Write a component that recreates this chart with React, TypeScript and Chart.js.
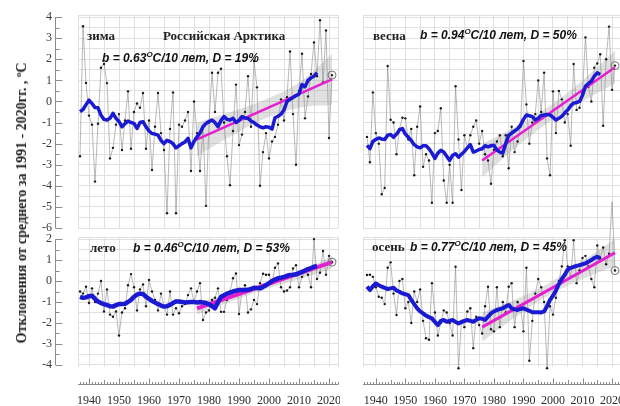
import React, { useEffect, useRef } from 'react';
import { Chart, registerables } from 'chart.js';
Chart.register(...registerables);

// ---------- data ----------
const START_YEAR = 1937;
const YEARS: number[] = Array.from({ length: 85 }, (_, i) => START_YEAR + i); // 1937..2021
const SMOOTH_YEARS: number[] = YEARS.slice(0, 80); // 1937..2016

const WINTER = [
  -2.6, 3.57, 0.88, -0.67, -1.1, -3.8, -1.06, 1.6, 1.78, 0.87,
  -2.7, -2.2, -1.1, -0.6, -2.3, -0.9, 0.48, -2.24, -0.5, -0.1,
  -0.3, 0.4, -2.24, -0.9, -3.25, -1.2, 0.4, -1.5, -2.3, -5.3,
  -1.3, 0.43, -5.3, -1.1, -1.2, -0.9, -0.5, -3.3, 0.0, -1.5,
  -3.3, -1.2, -4.95, -1.0, 1.36, -0.5, 1.36, 1.55, -1.0, -2.6,
  -3.97, -1.4, 0.8, -2.07, -1.57, -0.5, 1.2, -1.2, 1.92, 0.67,
  -4.0, -2.4, -1.5, -2.7, -1.9, -1.68, -1.1, 0.1, -0.9, 0.2,
  2.37, -0.6, -3.0, 0.5, 2.26, -0.8, 0.24, 1.3, 2.8, 1.2,
  3.85, 0.9, 3.37, -1.73, 1.25,
];
const SPRING = [
  -1.68, -2.88, 0.43, -1.5, -2.0, -4.4, -4.1, 1.68, -0.87, -1.0,
  -2.5, -1.3, -0.77, -0.8, -1.8, -1.3, -3.5, -1.2, -0.24, -3.1,
  -2.5, -2.8, -4.8, -1.5, -1.4, -0.32, -3.75, -4.8, -3.0, -4.8,
  0.72, -1.8, -4.2, -1.6, -2.2, -1.6, -1.2, -0.9, -2.0, -1.4,
  -2.5, -2.8, -3.9, -2.3, -1.9, -1.6, -2.6, -1.6, -3.17, -1.2,
  -2.4, -1.9, -1.2, 1.92, -0.14, -2.0, -1.0, -0.6, 1.0, -0.5,
  1.36, -2.7, -3.5, 0.48, -1.5, 0.5, 0.1, -1.0, -0.6, -2.1,
  1.78, -0.4, -0.3, 0.4, 3.04, 0.7, 0.0, 1.6, 1.8, 2.24,
  -1.15, 2.0, 3.55, 0.55, 1.7,
];
const SUMMER = [
  -0.5, -0.6, -0.27, -1.05, -0.35, -1.0, -0.6, 0.0, -1.45, -0.4,
  -1.6, -1.7, -1.45, -2.6, -1.5, -1.3, -0.2, 0.33, -0.3, -1.4,
  -0.4, -0.16, -1.2, 0.05, -0.5, -0.9, -1.4, -0.6, -1.2, -1.6,
  -0.5, -1.6, -1.3, -1.54, -1.2, -1.1, -0.67, -0.35, -1.0, -0.5,
  -0.1, -1.86, -1.5, -1.4, -0.9, -0.8, -0.35, -1.47, -1.47, -0.9,
  -0.5, 0.13, 0.36, -1.57, -0.5, -0.2, -1.5, -1.35, -0.9, -1.1,
  -0.1, 0.35, 0.3, 0.3, -0.1, 0.63, 0.84, -0.3, -0.5, -0.45,
  -0.3, 0.6, 0.75, -0.3, 0.2, 0.45, 0.3, -0.3, 2.0, 0.1,
  0.4, 1.43, 0.3, 1.2, 0.9,
];
const AUTUMN = [
  0.29, 0.3, 0.2, -0.3, -0.75, -0.8, -1.1, 0.63, 0.89, -0.6,
  -1.62, 0.0, 0.1, -1.3, -1.0, -2.0, -0.5, -1.0, -0.4, -1.9,
  -2.73, -2.8, -0.1, -1.5, -2.6, -2.0, -1.4, -1.5, -2.0, -2.6,
  0.68, -4.16, -1.9, -2.2, -1.45, -1.3, -3.2, -1.7, -2.1, -2.5,
  -1.2, -0.27, -2.3, -2.4, -0.3, -2.2, -1.0, -1.5, -0.27, -0.1,
  -2.2, -1.0, -1.2, -2.4, 0.63, -3.8, -1.9, -0.6, 0.1, -0.3,
  -1.0, -4.16, -1.2, -1.6, -0.8, 0.0, 0.7, 1.95, 0.7, 0.2,
  1.95, -0.1, 0.5, 1.1, 1.2, 0.7, 0.1, -0.3, 1.7, 1.1,
  1.6, 0.8, 1.3, 3.78, 0.5,
];

const WINTER_SMOOTH = [
  -0.48, -0.38, -0.15, 0.06, -0.1, -0.29, -0.3, -0.65, -0.85, -0.88,
  -0.8, -0.56, -0.8, -0.95, -1.2, -1.05, -0.93, -1.0, -1.04, -1.28,
  -1.0, -0.96, -1.2, -1.4, -1.52, -1.55, -1.6, -1.85, -2.0, -1.84,
  -1.9, -2.0, -2.2, -2.1, -2.0, -1.92, -1.75, -2.2, -1.9, -1.68,
  -1.5, -1.2, -1.04, -0.95, -0.88, -1.0, -1.2, -0.9, -0.72, -0.85,
  -0.88, -0.8, -1.0, -0.9, -0.72, -0.78, -0.8, -0.93, -1.0, -1.12,
  -1.2, -1.25, -1.2, -1.22, -1.31, -0.77, -0.7, -0.6, -0.4, 0.0,
  0.1, 0.19, 0.28, 0.35, 0.8, 0.7, 1.0, 1.12, 1.2, 1.36,
];
const SPRING_SMOOTH = [
  -2.08, -2.24, -1.9, -1.8, -1.73, -1.78, -1.8, -1.6, -1.57, -1.7,
  -1.55, -1.35, -1.28, -1.55, -1.7, -1.85, -2.05, -2.15, -2.2, -2.1,
  -2.1, -2.24, -2.45, -2.7, -2.45, -2.32, -2.4, -2.6, -2.8, -2.55,
  -2.48, -2.64, -2.5, -2.37, -2.2, -2.05, -2.4, -2.35, -2.28, -2.24,
  -2.1, -2.15, -2.1, -2.08, -2.3, -2.4, -2.45, -2.0, -1.6, -1.5,
  -1.4, -1.3, -1.12, -0.85, -0.64, -0.68, -0.72, -0.88, -0.8, -0.66,
  -0.64, -0.62, -0.64, -0.75, -0.88, -0.8, -0.7, -0.55, -0.4, -0.2,
  -0.08, -0.05, 0.0, 0.3, 0.72, 0.85, 0.96, 1.2, 1.36, 1.28,
];
const SUMMER_SMOOTH = [
  -0.75, -0.8, -0.78, -0.72, -0.7, -0.85, -0.98, -1.05, -1.1, -1.15,
  -1.2, -1.22, -1.15, -1.1, -1.1, -1.08, -1.0, -0.9, -0.75, -0.65,
  -0.6, -0.62, -0.75, -0.85, -0.95, -1.02, -1.1, -1.17, -1.22, -1.2,
  -1.14, -1.05, -0.97, -0.98, -1.0, -1.02, -1.01, -1.0, -1.0, -1.02,
  -1.0, -1.02, -1.05, -1.1, -1.2, -1.3, -1.0, -0.75, -0.68, -0.6,
  -0.55, -0.5, -0.46, -0.43, -0.43, -0.43, -0.42, -0.38, -0.32, -0.33,
  -0.35, -0.28, -0.2, -0.1, 0.0, 0.07, 0.13, 0.16, 0.2, 0.25,
  0.29, 0.3, 0.32, 0.38, 0.44, 0.5, 0.57, 0.62, 0.68, 0.72,
];
const AUTUMN_SMOOTH = [
  -0.27, -0.43, -0.25, -0.11, -0.2, -0.27, -0.33, -0.38, -0.35, -0.32,
  -0.45, -0.51, -0.59, -0.63, -0.67, -0.9, -1.1, -1.3, -1.45, -1.54,
  -1.65, -1.72, -1.78, -1.95, -2.1, -1.9, -1.86, -1.94, -1.9, -1.86,
  -1.95, -2.02, -1.96, -1.9, -1.86, -1.9, -1.94, -1.85, -1.78, -1.8,
  -1.86, -1.7, -1.54, -1.45, -1.38, -1.34, -1.3, -1.22, -1.14, -1.3,
  -1.35, -1.38, -1.33, -1.3, -1.36, -1.42, -1.49, -1.49, -1.49, -1.5,
  -1.45, -1.2, -0.9, -0.7, -0.45, -0.15, 0.1, 0.3, 0.55, 0.63,
  0.68, 0.72, 0.76, 0.8, 0.84, 0.92, 1.0, 1.1, 1.16, 1.08,
];

const TREND_YEARS = [1976, 2021];
const WINTER_TREND = [-1.8, 1.05];
const SPRING_TREND = [-2.8, 1.62];
const SUMMER_TREND = [-1.3, 0.9];
const AUTUMN_TREND = [-2.2, 1.35];

const BAND_YEARS = [1976, 1986, 1998, 2010, 2021];
const WINTER_BAND_HI = [-1.0, -0.55, 0.05, 0.9, 2.25];
const WINTER_BAND_LO = [-2.6, -1.75, -0.85, -0.3, -0.15];
const SPRING_BAND_HI = [-2.0, -1.3, -0.3, 1.0, 2.4];
const SPRING_BAND_LO = [-3.6, -2.35, -1.05, 0.0, 0.85];
const SUMMER_BAND_HI = [-1.0, -0.65, -0.17, 0.4, 1.2];
const SUMMER_BAND_LO = [-1.6, -1.05, -0.43, 0.08, 0.6];
const AUTUMN_BAND_HI = [-1.5, -0.95, -0.15, 0.95, 2.0];
const AUTUMN_BAND_LO = [-2.9, -1.85, -0.73, 0.1, 0.7];

const TOP_Y_LABELS = [4, 3, 2, 1, 0, -1, -2, -3, -4, -5, -6];
const BOTTOM_Y_LABELS = [2, 1, 0, -1, -2, -3, -4];
const DECADES = [1940, 1950, 1960, 1970, 1980, 1990, 2000, 2010, 2020];

// ---------- styles ----------
const GRID = '#e0e0e0';
const SERIF = '"Liberation Serif", "Times New Roman", serif';
const SANS = '"Liberation Sans", Arial, sans-serif';

type PanelCfg = {
  left: number; top: number; w: number; h: number;
  padTop: number; padBottom: number; padRight: number;
  yAxisW: number; xAxisH: number;
  xMin: number; xMax: number; yMin: number; yMax: number;
  yLabels: number[]; showY: boolean; showX: boolean;
  values: number[]; smooth: number[]; trend: number[];
  bandHi: number[]; bandLo: number[];
  blueW: number; pinkW: number;
};

const pts = (xs: number[], ys: number[]) => ys.map((y, i) => ({ x: xs[i], y }));

function zeroPad(s: any) {
  s.paddingTop = 0;
  s.paddingBottom = 0;
  s.paddingLeft = 0;
  s.paddingRight = 0;
}

function makeDecor(cfg: PanelCfg) {
  return {
    id: 'decor',
    afterDraw(chart: any) {
      const { ctx, chartArea } = chart;
      const xs = chart.scales.x;
      const ys = chart.scales.y;
      ctx.save();
      ctx.strokeStyle = '#8c8c8c';
      ctx.lineWidth = 1;
      if (cfg.showY) {
        const ax = Math.round(chartArea.left - 23) + 0.5;
        const labs = cfg.yLabels;
        ctx.beginPath();
        ctx.moveTo(ax, ys.getPixelForValue(labs[0]));
        ctx.lineTo(ax, ys.getPixelForValue(labs[labs.length - 1]));
        labs.forEach((v, i) => {
          const p = Math.round(ys.getPixelForValue(v)) + 0.5;
          ctx.moveTo(ax, p);
          ctx.lineTo(ax + 7, p);
          if (i < labs.length - 1) {
            const q = Math.round(ys.getPixelForValue(v - 0.5)) + 0.5;
            ctx.moveTo(ax, q);
            ctx.lineTo(ax + 4, q);
          }
        });
        ctx.stroke();
      }
      if (cfg.showX) {
        const by = Math.round(chartArea.bottom + 17) + 0.5;
        ctx.beginPath();
        ctx.moveTo(chartArea.left, by);
        ctx.lineTo(chartArea.right, by);
        for (let yr = Math.ceil(xs.min); yr <= Math.floor(xs.max); yr++) {
          const len = yr % 10 === 0 ? 6 : yr % 5 === 0 ? 4.5 : 2.5;
          const px = Math.round(xs.getPixelForValue(yr)) + 0.5;
          ctx.moveTo(px, by);
          ctx.lineTo(px, by - len);
        }
        ctx.stroke();
      }
      ctx.restore();
    },
  };
}

function Panel({ cfg }: { cfg: PanelCfg }) {
  const ref = useRef<HTMLCanvasElement>(null);
  useEffect(() => {
    const yGrid: number[] = [];
    cfg.yLabels.forEach((v, i) => {
      yGrid.push(v);
      if (i < cfg.yLabels.length - 1) yGrid.push(v - 0.5);
    });
    yGrid.push(cfg.yMax);
    yGrid.sort((a, b) => a - b);
    const xGrid: number[] = [cfg.xMin];
    DECADES.forEach((d) => {
      xGrid.push(d);
      if (d + 5 <= 2020) xGrid.push(d + 5);
    });
    xGrid.push(cfg.xMax);

    const lastIdx = cfg.values.length - 1;
    const chart = new Chart(ref.current as HTMLCanvasElement, {
      type: 'line',
      data: {
        datasets: [
          {
            data: [{ x: YEARS[lastIdx], y: cfg.values[lastIdx] }],
            showLine: false, pointRadius: 4, pointBorderColor: '#777',
            pointBackgroundColor: 'rgba(0,0,0,0)', pointBorderWidth: 1, clip: false,
          },
          {
            data: pts(SMOOTH_YEARS, cfg.smooth), borderColor: '#1a1ad2',
            borderWidth: cfg.blueW, pointRadius: 0, tension: 0, borderJoinStyle: 'round',
          },
          {
            data: pts(TREND_YEARS, cfg.trend), borderColor: '#e61ed2',
            borderWidth: cfg.pinkW, pointRadius: 0,
          },
          {
            data: pts(YEARS, cfg.values), borderColor: '#8a8a8a', borderWidth: 0.6,
            pointRadius: 1.2, pointBackgroundColor: '#1a1a1a', pointBorderWidth: 0,
            tension: 0, clip: false,
          },
          {
            data: pts(BAND_YEARS, cfg.bandHi), borderWidth: 0, pointRadius: 0,
            backgroundColor: 'rgba(165,165,165,0.34)', fill: '+1', tension: 0.4,
          },
          {
            data: pts(BAND_YEARS, cfg.bandLo), borderWidth: 0, pointRadius: 0,
            fill: false, tension: 0.4,
          },
        ] as any,
      },
      options: {
        responsive: false,
        animation: false,
        events: [],
        layout: {
          padding: { top: cfg.padTop, bottom: cfg.padBottom, left: 0, right: cfg.padRight },
          autoPadding: false,
        },
        plugins: { legend: { display: false }, tooltip: { enabled: false } },
        scales: {
          x: {
            type: 'linear', min: cfg.xMin, max: cfg.xMax, position: 'bottom',
            afterBuildTicks: (s: any) => { s.ticks = xGrid.map((v) => ({ value: v })); },
            afterFit: (s: any) => { s.height = cfg.xAxisH; zeroPad(s); },
            grid: { color: GRID, lineWidth: 1, drawTicks: false },
            border: { display: false },
            ticks: {
              display: cfg.showX, autoSkip: false, maxRotation: 0, minRotation: 0, padding: 27,
              color: '#2a2a2a', font: { family: SERIF, size: 12 },
              callback: (v: any) => (DECADES.indexOf(Number(v)) >= 0 ? String(v) : ''),
            },
          },
          y: {
            type: 'linear', min: cfg.yMin, max: cfg.yMax,
            afterBuildTicks: (s: any) => { s.ticks = yGrid.map((v) => ({ value: v })); },
            afterFit: (s: any) => { s.width = cfg.yAxisW; zeroPad(s); },
            grid: { color: GRID, lineWidth: 1, drawTicks: false },
            border: { display: false },
            ticks: {
              display: cfg.showY, autoSkip: false, padding: 26,
              color: '#3a3a3a', font: { family: SERIF, size: 12 },
              callback: (v: any) => {
                const n = Number(v);
                return Math.abs(n - Math.round(n)) < 1e-6 ? String(Math.round(n)) : '';
              },
            },
          },
        },
      } as any,
      plugins: [makeDecor(cfg)],
    });
    return () => chart.destroy();
  }, []);
  return (
    <canvas
      ref={ref}
      width={cfg.w}
      height={cfg.h}
      style={{ position: 'absolute', left: cfg.left, top: cfg.top, width: cfg.w, height: cfg.h }}
    />
  );
}

const LEFT_X = { xMin: 1936.33, xMax: 2023.0 };
const RIGHT_X = { xMin: 1935.65, xMax: 2022.7 };

const PANELS: PanelCfg[] = [
  {
    left: 0, top: 0, w: 340, h: 240, padTop: 15, padBottom: 0, padRight: 2,
    yAxisW: 78, xAxisH: 12, ...LEFT_X, yMin: -6, yMax: 4.1,
    yLabels: TOP_Y_LABELS, showY: true, showX: false,
    values: WINTER, smooth: WINTER_SMOOTH, trend: WINTER_TREND,
    bandHi: WINTER_BAND_HI, bandLo: WINTER_BAND_LO, blueW: 3.5, pinkW: 2.5,
  },
  {
    left: 340, top: 0, w: 280, h: 240, padTop: 15, padBottom: 0, padRight: 0,
    yAxisW: 23, xAxisH: 12, ...RIGHT_X, yMin: -6, yMax: 4.1,
    yLabels: TOP_Y_LABELS, showY: false, showX: false,
    values: SPRING, smooth: SPRING_SMOOTH, trend: SPRING_TREND,
    bandHi: SPRING_BAND_HI, bandLo: SPRING_BAND_LO, blueW: 3.5, pinkW: 2.5,
  },
  {
    left: 0, top: 190, w: 340, h: 216, padTop: 47, padBottom: 0, padRight: 2,
    yAxisW: 78, xAxisH: 39, ...LEFT_X, yMin: -4.1, yMax: 2.1,
    yLabels: BOTTOM_Y_LABELS, showY: true, showX: true,
    values: SUMMER, smooth: SUMMER_SMOOTH, trend: SUMMER_TREND,
    bandHi: SUMMER_BAND_HI, bandLo: SUMMER_BAND_LO, blueW: 4.5, pinkW: 4,
  },
  {
    left: 340, top: 190, w: 280, h: 216, padTop: 47, padBottom: 0, padRight: 0,
    yAxisW: 23, xAxisH: 39, ...RIGHT_X, yMin: -4.1, yMax: 2.1,
    yLabels: BOTTOM_Y_LABELS, showY: false, showX: true,
    values: AUTUMN, smooth: AUTUMN_SMOOTH, trend: AUTUMN_TREND,
    bandHi: AUTUMN_BAND_HI, bandLo: AUTUMN_BAND_LO, blueW: 4, pinkW: 3,
  },
];

const Sup = () => (
  <span style={{ fontSize: 8, position: 'relative', top: -5 }}>O</span>
);

function Label({ left, top, children, kind }: any) {
  const font =
    kind === 'serif'
      ? { fontFamily: SERIF, fontWeight: 700, fontSize: 13, color: '#222' }
      : { fontFamily: SANS, fontWeight: 700, fontStyle: 'italic', fontSize: 12, color: '#111' };
  return (
    <div style={{ position: 'absolute', left, top, lineHeight: '16px', whiteSpace: 'nowrap', ...font }}>
      {children}
    </div>
  );
}

export default function App() {
  return (
    <div style={{ position: 'fixed', left: 0, top: 0, width: 620, height: 406, background: '#fff', overflow: 'hidden' }}>
      {PANELS.map((p, i) => (
        <Panel key={i} cfg={p} />
      ))}
      <div
        style={{
          position: 'absolute', left: 22, top: 203, transform: 'translate(-50%, -50%) rotate(-90deg)',
          whiteSpace: 'nowrap', fontFamily: SERIF, fontWeight: 700, fontSize: 14, color: '#222',
        }}
      >
        Отклонения от среднего за 1991 - 2020гг. , <span style={{ fontSize: 9, position: 'relative', top: -5 }}>o</span>C
      </div>
      <Label left={87} top={28} kind="serif">зима</Label>
      <Label left={163} top={28} kind="serif">Российская Арктика</Label>
      <Label left={102} top={50} kind="sans">b = 0.63<Sup />C/10 лет, D = 19%</Label>
      <Label left={373} top={28} kind="serif">весна</Label>
      <Label left={420} top={27} kind="sans">b = 0.94<Sup />C/10 лет, D = 50%</Label>
      <Label left={90} top={240} kind="serif">лето</Label>
      <Label left={133} top={240} kind="sans">b = 0.46<Sup />C/10 лет, D = 53%</Label>
      <Label left={372} top={239} kind="serif">осень</Label>
      <Label left={410} top={239} kind="sans">b = 0.77<Sup />C/10 лет, D = 45%</Label>
    </div>
  );
}
